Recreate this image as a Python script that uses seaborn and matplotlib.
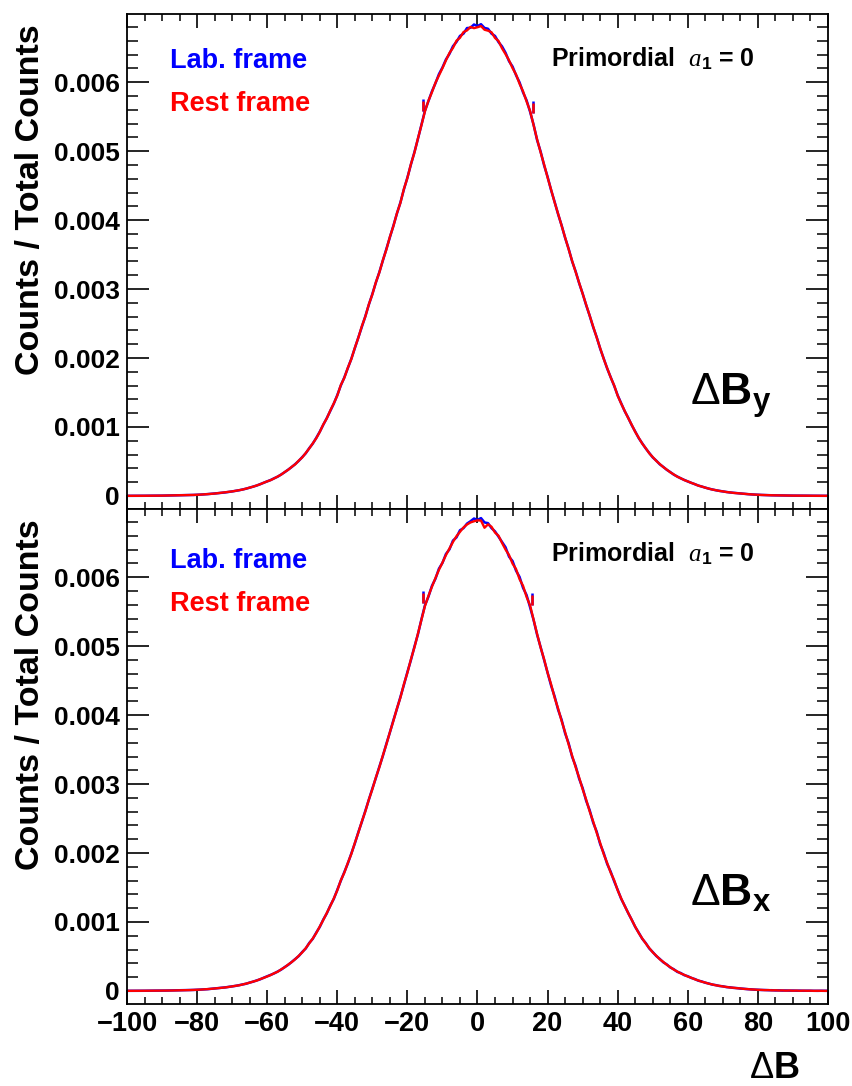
import numpy as np
import pandas as pd
import seaborn as sns
import matplotlib.pyplot as plt
from matplotlib.ticker import MultipleLocator, FuncFormatter

# bin centres, delta B from -100 to 100, width 1
dB = np.arange(-100, 101)

# histogram heights, in units of 1e-3 (counts / total counts)
lab_y = [
    0.001, 0.001, 0.001, 0.002, 0.002, 0.002, 0.003, 0.003, 0.003, 0.004,
    0.004, 0.005, 0.005, 0.006, 0.007, 0.008, 0.009, 0.011, 0.012, 0.014,
    0.016, 0.019, 0.022, 0.026, 0.030, 0.035, 0.040, 0.045, 0.050, 0.057,
    0.065, 0.073, 0.082, 0.093, 0.105, 0.120, 0.135, 0.150, 0.170, 0.190,
    0.210, 0.231, 0.256, 0.279, 0.312, 0.344, 0.382, 0.419, 0.462, 0.508,
    0.562, 0.618, 0.693, 0.758, 0.842, 0.931, 1.032, 1.128, 1.234, 1.338,
    1.462, 1.601, 1.718, 1.853, 1.988, 2.143, 2.298, 2.455, 2.606, 2.774,
    2.928, 3.094, 3.246, 3.414, 3.578, 3.755, 3.918, 4.094, 4.255, 4.446,
    4.617, 4.806, 4.985, 5.178, 5.382, 5.585, 5.726, 5.868, 5.985, 6.118,
    6.214, 6.331, 6.412, 6.523, 6.585, 6.672, 6.705, 6.786, 6.790, 6.838,
    6.815,
    6.842, 6.788, 6.776, 6.705, 6.671, 6.582, 6.520, 6.428, 6.305, 6.228,
    6.102, 5.998, 5.852, 5.738, 5.572, 5.385, 5.162, 4.996, 4.795, 4.628,
    4.435, 4.266, 4.085, 3.924, 3.742, 3.585, 3.402, 3.256, 3.085, 2.935,
    2.766, 2.615, 2.448, 2.304, 2.136, 1.994, 1.847, 1.723, 1.596, 1.458,
    1.342, 1.228, 1.134, 1.026, 0.934, 0.838, 0.762, 0.688, 0.622, 0.558,
    0.512, 0.458, 0.421, 0.378, 0.346, 0.308, 0.281, 0.254, 0.232, 0.209,
    0.190, 0.170, 0.150, 0.135, 0.120, 0.105, 0.093, 0.082, 0.073, 0.065,
    0.057, 0.050, 0.045, 0.040, 0.035, 0.030, 0.026, 0.022, 0.019, 0.016,
    0.014, 0.012, 0.011, 0.009, 0.008, 0.007, 0.006, 0.005, 0.005, 0.004,
    0.004, 0.003, 0.003, 0.003, 0.002, 0.002, 0.002, 0.001, 0.001, 0.001,
]
rest_y = [
    0.001, 0.001, 0.001, 0.002, 0.002, 0.002, 0.003, 0.003, 0.003, 0.004,
    0.004, 0.005, 0.005, 0.006, 0.007, 0.008, 0.009, 0.010, 0.012, 0.014,
    0.016, 0.019, 0.022, 0.026, 0.030, 0.034, 0.040, 0.045, 0.051, 0.057,
    0.065, 0.074, 0.082, 0.092, 0.106, 0.119, 0.134, 0.151, 0.169, 0.191,
    0.211, 0.229, 0.254, 0.282, 0.309, 0.347, 0.379, 0.422, 0.458, 0.512,
    0.558, 0.624, 0.688, 0.762, 0.836, 0.928, 1.036, 1.124, 1.238, 1.342,
    1.455, 1.608, 1.712, 1.858, 1.984, 2.148, 2.294, 2.462, 2.601, 2.779,
    2.922, 3.098, 3.241, 3.419, 3.572, 3.758, 3.912, 4.098, 4.249, 4.452,
    4.611, 4.812, 4.978, 5.184, 5.376, 5.578, 5.732, 5.855, 5.992, 6.098,
    6.205, 6.318, 6.425, 6.498, 6.602, 6.645, 6.728, 6.752, 6.802, 6.785,
    6.798,
    6.815, 6.762, 6.748, 6.725, 6.642, 6.598, 6.492, 6.408, 6.318, 6.205,
    6.112, 5.978, 5.868, 5.722, 5.585, 5.378, 5.172, 4.985, 4.808, 4.618,
    4.442, 4.258, 4.092, 3.918, 3.748, 3.578, 3.408, 3.249, 3.092, 2.928,
    2.772, 2.608, 2.455, 2.298, 2.142, 1.988, 1.852, 1.718, 1.602, 1.452,
    1.338, 1.234, 1.128, 1.032, 0.928, 0.842, 0.758, 0.692, 0.618, 0.562,
    0.508, 0.462, 0.418, 0.382, 0.342, 0.312, 0.278, 0.256, 0.229, 0.211,
    0.189, 0.171, 0.149, 0.136, 0.119, 0.106, 0.092, 0.083, 0.072, 0.066,
    0.056, 0.051, 0.044, 0.040, 0.035, 0.031, 0.026, 0.022, 0.019, 0.016,
    0.014, 0.012, 0.010, 0.009, 0.008, 0.007, 0.006, 0.005, 0.005, 0.004,
    0.004, 0.003, 0.003, 0.003, 0.002, 0.002, 0.002, 0.001, 0.001, 0.001,
]
lab_x = [
    0.001, 0.001, 0.002, 0.002, 0.002, 0.002, 0.003, 0.003, 0.004, 0.004,
    0.004, 0.005, 0.006, 0.006, 0.007, 0.008, 0.009, 0.011, 0.012, 0.014,
    0.016, 0.019, 0.022, 0.025, 0.030, 0.035, 0.039, 0.045, 0.051, 0.058,
    0.066, 0.073, 0.083, 0.094, 0.104, 0.121, 0.134, 0.152, 0.168, 0.191,
    0.212, 0.232, 0.254, 0.281, 0.309, 0.346, 0.378, 0.421, 0.465, 0.505,
    0.565, 0.615, 0.696, 0.755, 0.846, 0.928, 1.035, 1.124, 1.238, 1.335,
    1.466, 1.598, 1.722, 1.848, 1.992, 2.138, 2.302, 2.451, 2.612, 2.768,
    2.934, 3.088, 3.252, 3.408, 3.584, 3.748, 3.925, 4.088, 4.262, 4.438,
    4.625, 4.798, 4.992, 5.172, 5.388, 5.592, 5.718, 5.875, 5.978, 6.125,
    6.208, 6.338, 6.405, 6.532, 6.578, 6.682, 6.712, 6.778, 6.812, 6.852,
    6.832,
    6.858, 6.795, 6.785, 6.712, 6.665, 6.588, 6.512, 6.435, 6.298, 6.235,
    6.095, 6.005, 5.845, 5.742, 5.565, 5.381, 5.168, 4.988, 4.802, 4.621,
    4.428, 4.272, 4.078, 3.932, 3.735, 3.592, 3.396, 3.262, 3.078, 2.942,
    2.758, 2.622, 2.441, 2.311, 2.129, 2.001, 1.841, 1.729, 1.589, 1.465,
    1.335, 1.235, 1.128, 1.032, 0.928, 0.845, 0.756, 0.694, 0.616, 0.564,
    0.506, 0.464, 0.415, 0.384, 0.340, 0.314, 0.276, 0.259, 0.228, 0.213,
    0.188, 0.172, 0.148, 0.137, 0.118, 0.107, 0.091, 0.084, 0.071, 0.067,
    0.055, 0.052, 0.044, 0.041, 0.034, 0.031, 0.025, 0.023, 0.018, 0.017,
    0.013, 0.013, 0.010, 0.010, 0.007, 0.008, 0.005, 0.006, 0.004, 0.005,
    0.003, 0.004, 0.002, 0.003, 0.002, 0.002, 0.001, 0.002, 0.001, 0.001,
]
rest_x = [
    0.001, 0.001, 0.001, 0.002, 0.002, 0.003, 0.003, 0.003, 0.003, 0.004,
    0.005, 0.005, 0.005, 0.006, 0.007, 0.008, 0.010, 0.011, 0.012, 0.014,
    0.017, 0.019, 0.022, 0.026, 0.030, 0.035, 0.040, 0.046, 0.050, 0.057,
    0.065, 0.074, 0.081, 0.093, 0.106, 0.119, 0.136, 0.149, 0.171, 0.189,
    0.209, 0.230, 0.257, 0.278, 0.313, 0.343, 0.383, 0.418, 0.460, 0.510,
    0.559, 0.620, 0.690, 0.760, 0.839, 0.934, 1.029, 1.131, 1.231, 1.341,
    1.458, 1.604, 1.714, 1.856, 1.985, 2.146, 2.295, 2.458, 2.603, 2.776,
    2.925, 3.096, 3.244, 3.416, 3.575, 3.752, 3.915, 4.096, 4.252, 4.449,
    4.614, 4.809, 4.981, 5.181, 5.379, 5.582, 5.729, 5.862, 5.988, 6.108,
    6.212, 6.322, 6.418, 6.512, 6.595, 6.658, 6.722, 6.765, 6.795, 6.812,
    6.825,
    6.822, 6.718, 6.768, 6.732, 6.648, 6.602, 6.498, 6.402, 6.322, 6.198,
    6.118, 5.972, 5.875, 5.715, 5.592, 5.386, 5.178, 4.982, 4.812, 4.614,
    4.446, 4.254, 4.095, 3.915, 3.752, 3.575, 3.412, 3.245, 3.095, 2.925,
    2.775, 2.604, 2.458, 2.295, 2.145, 1.985, 1.855, 1.715, 1.605, 1.458,
    1.341, 1.231, 1.131, 1.029, 0.931, 0.839, 0.761, 0.689, 0.621, 0.559,
    0.511, 0.459, 0.421, 0.379, 0.345, 0.309, 0.282, 0.253, 0.233, 0.208,
    0.191, 0.168, 0.152, 0.133, 0.121, 0.104, 0.094, 0.081, 0.074, 0.064,
    0.058, 0.049, 0.046, 0.039, 0.036, 0.029, 0.027, 0.021, 0.020, 0.015,
    0.015, 0.011, 0.012, 0.008, 0.009, 0.006, 0.007, 0.004, 0.006, 0.003,
    0.005, 0.002, 0.004, 0.002, 0.003, 0.001, 0.002, 0.001, 0.001, 0.000,
]

# a few stray bins sitting off the curve (same unit)
stray_dB_y = [-15.5, 15.75]
stray_lab_y = [5.67, 5.64]
stray_rest_y = [5.66, 5.63]
stray_dB_x = [-15.6, 15.6]
stray_lab_x = [5.71, 5.68]
stray_rest_x = [5.70, 5.67]

UNIT = 1e-3

panels = [
    (lab_y, rest_y, stray_dB_y, stray_lab_y, stray_rest_y, r'$\Delta\mathbf{B}_\mathbf{y}$'),
    (lab_x, rest_x, stray_dB_x, stray_lab_x, stray_rest_x, r'$\Delta\mathbf{B}_\mathbf{x}$'),
]

sns.set_style('ticks')
plt.rcParams['font.family'] = ['Liberation Sans', 'DejaVu Sans']
plt.rcParams['font.weight'] = 'bold'
for key in ['text.color', 'axes.labelcolor', 'xtick.color', 'ytick.color', 'axes.edgecolor']:
    plt.rcParams[key] = 'black'
plt.rcParams['mathtext.fontset'] = 'custom'
plt.rcParams['mathtext.rm'] = 'Liberation Sans:weight=normal'
plt.rcParams['mathtext.bf'] = 'Liberation Sans:weight=bold'
plt.rcParams['mathtext.it'] = 'Liberation Serif:style=italic:weight=normal'

fig = plt.figure(figsize=(8.53, 10.86), dpi=100)
L, R = 127 / 853, 828 / 853
axes = [fig.add_axes([L, 1 - 509 / 1086, R - L, 495 / 1086]),
        fig.add_axes([L, 1 - 1004 / 1086, R - L, 495 / 1086])]

for k, (ax, (lab, rest, sx, slab, srest, tag)) in enumerate(zip(axes, panels)):
    df = pd.DataFrame({'dB': dB, 'lab': np.array(lab) * UNIT, 'rest': np.array(rest) * UNIT})
    sns.lineplot(data=df, x='dB', y='lab', color='blue', lw=1.8, estimator=None, ax=ax)
    sns.lineplot(data=df, x='dB', y='rest', color='red', lw=1.7, estimator=None, ax=ax)
    sns.scatterplot(x=sx, y=np.array(slab) * UNIT, marker='|', s=70, linewidth=1.8,
                    color='blue', ax=ax)
    sns.scatterplot(x=sx, y=np.array(srest) * UNIT, marker='|', s=55, linewidth=1.8,
                    color='red', ax=ax)

    ax.set_xlim(-100, 100)
    ax.set_ylim(-0.00019, 0.00699)
    ax.set_xlabel('')
    ax.set_ylabel('')
    for s in ax.spines.values():
        s.set_linewidth(1.3)
        s.set_visible(True)

    ax.xaxis.set_major_locator(MultipleLocator(20))
    ax.xaxis.set_minor_locator(MultipleLocator(5))
    ax.yaxis.set_major_locator(MultipleLocator(0.001))
    ax.yaxis.set_minor_locator(MultipleLocator(0.0002))
    ax.yaxis.set_major_formatter(FuncFormatter(lambda v, p: '%g' % round(v, 4)))
    ax.tick_params(axis='x', which='major', direction='in', length=10, width=1.2,
                   top=True, bottom=True, labelsize=19.5, pad=5)
    ax.tick_params(axis='x', which='minor', direction='in', length=5, width=1.1,
                   top=True, bottom=True)
    ax.tick_params(axis='y', which='major', direction='in', length=16, width=1.2,
                   left=True, right=True, labelsize=19, pad=5)
    ax.tick_params(axis='y', which='minor', direction='in', length=8, width=1.1,
                   left=True, right=True)
    if k == 0:
        ax.tick_params(axis='x', labelbottom=False)

    ax.text(-0.137, 0.98, 'Counts / Total Counts', rotation=90, ha='center', va='top',
            fontsize=24.5, fontweight='bold', transform=ax.transAxes)
    ax.text(0.061, 0.905 - 0.01 * k, 'Lab. frame', color='blue', fontsize=19.5,
            fontweight='bold', va='center', transform=ax.transAxes)
    ax.text(0.061, 0.818 - 0.01 * k, 'Rest frame', color='red', fontsize=19.5,
            fontweight='bold', va='center', transform=ax.transAxes)
    ax.text(0.605, 0.91, r'Primordial  $\mathit{a}_\mathbf{1}$ = 0', fontsize=18,
            fontweight='bold', va='center', transform=ax.transAxes)
    ax.text(0.803, 0.23 - 0.006 * k, tag, fontsize=32, va='center', transform=ax.transAxes)

axes[1].text(0.96, -0.13, r'$\Delta\mathbf{B}$', fontsize=26, ha='right', va='center',
             transform=axes[1].transAxes)

fig.savefig('out.png', dpi=100)
